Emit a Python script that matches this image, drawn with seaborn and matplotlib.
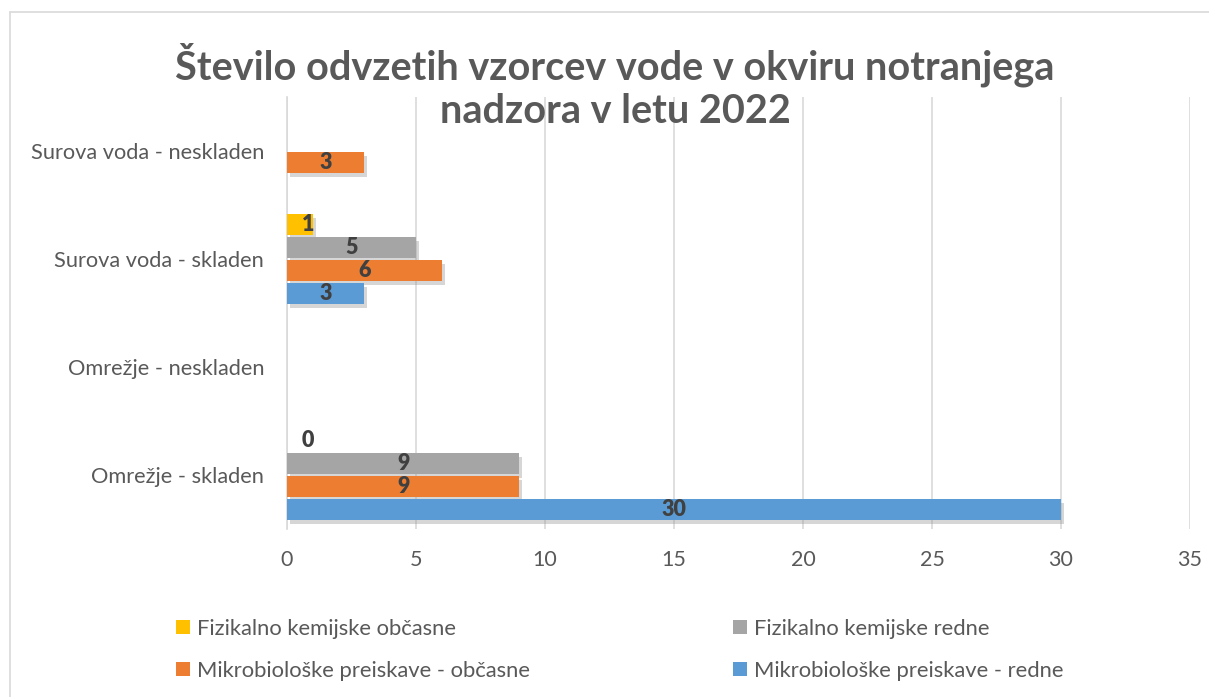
import matplotlib
matplotlib.use("Agg")
import matplotlib.pyplot as plt
import matplotlib.patheffects as pe
from matplotlib.patches import Patch
from matplotlib.lines import Line2D
import seaborn as sns
import pandas as pd

# ---- data ----
categories = ["Surova voda - neskladen", "Surova voda - skladen",
              "Omrežje - neskladen", "Omrežje - skladen"]
series = ["Fizikalno kemijske občasne", "Fizikalno kemijske redne",
          "Mikrobiološke preiskave - občasne", "Mikrobiološke preiskave - redne"]
colors = ["#FFC000", "#A5A5A5", "#ED7D31", "#5B9BD5"]

fk_obcasne = [None, 1, None, 0]
fk_redne = [None, 5, None, 9]
mikro_obcasne = [3, 6, None, 9]
mikro_redne = [None, 3, None, 30]
xticks = [0, 5, 10, 15, 20, 25, 30, 35]

rows = []
for s, vals in zip(series, [fk_obcasne, fk_redne, mikro_obcasne, mikro_redne]):
    for c, v in zip(categories, vals):
        if v is not None:
            rows.append({"cat": c, "series": s, "value": v})
df = pd.DataFrame(rows)

sns.set_style("white")
plt.rcParams["font.family"] = ["Lato", "DejaVu Sans"]
GRAY = "#595959"

fig = plt.figure(figsize=(12.09, 6.97), dpi=100)
ax = fig.add_axes([287/1209, 1-529/697, (1190-287)/1209, (529-97)/697])

sns.barplot(data=df, y="cat", x="value", hue="series", order=categories,
            hue_order=series, palette=colors, orient="h", width=0.85, gap=0.09,
            legend=False, ax=ax, errorbar=None, saturation=1, zorder=3)

shadow = [pe.SimplePatchShadow(offset=(2, -3), shadow_rgbFace="#8c8c8c", alpha=0.35),
          pe.Normal()]
for p in ax.patches:
    p.set_path_effects(shadow)
    p.set_edgecolor("none")

# data labels
for cont in ax.containers:
    for p in cont:
        w = p.get_width()
        yc = p.get_y() + p.get_height() / 2
        xc = max(w / 2, 0.82)
        ax.text(xc, yc, f"{w:g}", ha="center", va="center", fontsize=15.5,
                fontweight="heavy", color="#404040", zorder=5)

ax.set_xlim(0, 35)
ax.set_ylim(3.5, -0.5)
ax.set_xticks(xticks)
ax.set_xticklabels([str(t) for t in xticks])
ax.grid(axis="x", color="#D9D9D9", linewidth=1.2, zorder=0)
ax.set_axisbelow(True)
for s in ["top", "right", "bottom"]:
    ax.spines[s].set_visible(False)
ax.spines["left"].set_color("#D9D9D9")
ax.spines["left"].set_linewidth(1.2)
ax.tick_params(axis="x", labelsize=15.5, colors=GRAY, pad=15, length=0)
ax.tick_params(axis="y", labelsize=15.7, colors=GRAY, pad=16.5, length=0)
ax.set_xlabel("")
ax.set_ylabel("")

fig.text(615/1209, 1-86/697, "Število odvzetih vzorcev vode v okviru notranjega\nnadzora v letu 2022",
         ha="center", va="center", fontsize=28.5, fontweight="bold", color=GRAY,
         linespacing=1.2)

# chart border (top and left)
fig.add_artist(Line2D([10/1209, 1], [1-12/697, 1-12/697], color="#D9D9D9", lw=1.2))
fig.add_artist(Line2D([10/1209, 10/1209], [0, 1-12/697], color="#D9D9D9", lw=1.2))

def mk_leg(idx, xpos):
    handles = [Patch(facecolor=colors[i], edgecolor="none") for i in idx]
    labels = [series[i] for i in idx]
    leg = fig.legend(handles, labels, loc="upper left",
                     bbox_to_anchor=(xpos/1209, 1-610/697), frameon=False,
                     fontsize=15.8, handlelength=0.65, handleheight=0.65,
                     handletextpad=0.3, labelspacing=1.0, borderaxespad=0)
    for t in leg.get_texts():
        t.set_color(GRAY)
    return leg

mk_leg([0, 2], 167)
mk_leg([1, 3], 724)

fig.savefig("out.png", dpi=100)
